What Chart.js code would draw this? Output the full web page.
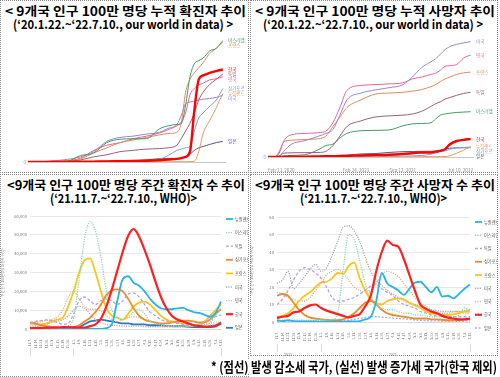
<!DOCTYPE html>
<html>
<head>
<meta charset="utf-8">
<script src="https://cdn.jsdelivr.net/npm/chart.js@4.4.1/dist/chart.umd.min.js"></script>
<style>
body { margin: 0; width: 500px; height: 377px; background: #fff; position: relative; overflow: hidden; font-family: 'Noto Sans CJK KR', sans-serif; }
.box { position: absolute; border: 1px dotted #888; box-sizing: border-box; }
.c { position: absolute; }
.t { position: absolute; white-space: nowrap; font-weight: bold; font-size: 12.5px; line-height: 13px; color: #000; transform-origin: 0 0; }
.foot { background: #fff; font-size: 13.5px; line-height: 15px; }
</style>
</head>
<body>
<div class="box" style="left:0;top:0;width:249px;height:173px"></div>
<div class="box" style="left:250px;top:0;width:248px;height:173px"></div>
<div class="box" style="left:0;top:174px;width:249px;height:203px"></div>
<div class="box" style="left:250px;top:174px;width:248px;height:182px"></div>

<div class="t" data-x="5" data-w="241" style="top:4px">&lt; 9개국 인구 100만 명당 누적 확진자 추이</div>
<div class="t" data-x="13" data-w="220" style="top:17px">(‘20.1.22.~‘22.7.10., our world in data) &gt;</div>
<div class="t" data-x="255" data-w="240" style="top:4px">&lt; 9개국 인구 100만 명당 누적 사망자 추이</div>
<div class="t" data-x="263" data-w="220" style="top:17px">(‘20.1.22.~‘22.7.10., our world in data) &gt;</div>
<div class="t" data-x="7" data-w="238" style="top:178px">&lt;9개국 인구 100만 명당 주간 확진자 수 추이</div>
<div class="t" data-x="50" data-w="147" style="top:191px">(‘21.11.7.~‘22.7.10., WHO)&gt;</div>
<div class="t" data-x="255" data-w="240" style="top:178px">&lt;9개국 인구 100만 명당 주간 사망자 수 추이</div>
<div class="t" data-x="300" data-w="147" style="top:191px">(‘21.11.7.~‘22.7.10., WHO)&gt;</div>

<div class="c" style="left:0;top:30px;width:249px;height:142px"><canvas id="cumCases"></canvas></div>
<div class="c" style="left:250px;top:30px;width:248px;height:142px"><canvas id="cumDeaths"></canvas></div>
<div class="c" style="left:1px;top:203px;width:247px;height:154px"><canvas id="weekCases"></canvas></div>
<div class="c" style="left:250px;top:203px;width:247px;height:154px"><canvas id="weekDeaths"></canvas></div>

<div class="t foot" data-x="211" data-w="286" style="top:359px">* (점선) 발생 감소세 국가, (실선) 발생 증가세 국가(한국 제외)</div>

<script>
// cumulative per million (our world in data), x = days since 2020-01-22
var caseDays = [0, 60, 120, 180, 240, 300, 360, 420, 480, 540, 600, 640, 680, 700, 720, 740, 760, 780, 800, 830, 860, 890];
var caseCountries = ['이스라엘', '프랑스', '한국', '독일', '영국', '싱가포르', '뉴질랜드', '미국', '일본'];
var cumCases = [
    [0, 0, 1000, 3000, 25000, 35000, 75000, 88000, 90000, 90000, 128000, 140000, 145000, 148000, 220000, 330000, 380000, 392000, 402000, 430000, 440000, 470000],
    [0, 1000, 2500, 5000, 12000, 35000, 55000, 75000, 85000, 95000, 105000, 110000, 115000, 150000, 270000, 320000, 345000, 365000, 385000, 420000, 440000, 465000],
    [0, 0, 200, 500, 1000, 1500, 2000, 3000, 4000, 5000, 7000, 9000, 12000, 15000, 20000, 40000, 200000, 320000, 335000, 345000, 352000, 358000],
    [0, 0, 2000, 3000, 8000, 20000, 28000, 40000, 45000, 50000, 52000, 55000, 65000, 90000, 120000, 150000, 190000, 240000, 270000, 300000, 320000, 340000],
    [0, 500, 4000, 5000, 15000, 45000, 65000, 75000, 90000, 100000, 112000, 125000, 140000, 155000, 190000, 260000, 285000, 298000, 305000, 318000, 322000, 330000],
    [0, 0, 500, 1000, 1000, 1000, 1500, 2000, 2500, 5000, 10000, 25000, 45000, 50000, 55000, 60000, 120000, 170000, 190000, 215000, 240000, 285000],
    [0, 0, 0, 0, 0, 0, 0, 100, 100, 200, 500, 1000, 1000, 1000, 1000, 1500, 3000, 40000, 110000, 160000, 210000, 265000],
    [0, 500, 5000, 10000, 20000, 40000, 80000, 95000, 100000, 108000, 115000, 130000, 145000, 180000, 225000, 232000, 236000, 240000, 243000, 246000, 250000, 258000],
    [0, 0, 100, 500, 1000, 2000, 3000, 5000, 6000, 8000, 13000, 14000, 14000, 15000, 20000, 30000, 45000, 55000, 60000, 68000, 75000, 80000]
];
var caseTickDays = [0, 399, 599, 900];
var caseTickText = ['Jan 22, 2020', 'Feb 24, 2021', 'Sep 12, 2021', 'Jul 10, 2022'];

var deathDays = [22, 50, 70, 90, 120, 180, 240, 270, 300, 330, 360, 420, 480, 540, 600, 640, 680, 720, 740, 760, 780, 800, 830, 860, 890];
var deathCountries = ['미국', '영국', '프랑스', '독일', '이스라엘', '한국', '뉴질랜드', '싱가포르', '일본'];
var cumDeaths = [
    [0, 0, 20, 150, 330, 430, 550, 620, 720, 1100, 1500, 1680, 1760, 1820, 1900, 2100, 2350, 2500, 2580, 2700, 2820, 2900, 2960, 3000, 3030],
    [0, 0, 100, 420, 580, 620, 640, 680, 900, 1300, 1750, 1880, 1900, 1920, 1950, 2050, 2100, 2170, 2200, 2280, 2380, 2400, 2430, 2600, 2680],
    [0, 0, 150, 400, 440, 460, 480, 550, 800, 1050, 1300, 1500, 1650, 1680, 1700, 1730, 1770, 1850, 1900, 1980, 2050, 2100, 2170, 2210, 2230],
    [0, 0, 30, 100, 110, 115, 120, 150, 300, 550, 800, 950, 1050, 1080, 1100, 1130, 1200, 1330, 1400, 1450, 1520, 1560, 1620, 1670, 1700],
    [0, 0, 10, 30, 40, 60, 200, 300, 340, 500, 620, 690, 700, 710, 820, 870, 880, 900, 1000, 1100, 1130, 1150, 1170, 1180, 1190],
    [0, 0, 1, 3, 5, 8, 15, 18, 20, 25, 30, 40, 50, 60, 80, 100, 120, 120, 140, 160, 200, 330, 420, 450, 475],
    [0, 0, 0, 1, 4, 5, 5, 5, 5, 5, 5, 5, 5, 5, 5, 6, 8, 10, 10, 10, 12, 30, 100, 180, 270],
    [0, 0, 0, 0, 1, 1, 1, 1, 1, 2, 3, 5, 7, 10, 20, 30, 40, 70, 110, 140, 160, 200, 240, 250, 260],
    [0, 0, 2, 5, 8, 10, 15, 20, 30, 40, 50, 80, 90, 120, 140, 145, 148, 150, 155, 180, 210, 230, 240, 243, 245]
];
var deathTickDays = [22, 399, 599, 900];
var deathTickText = ['Feb 13, 2020', 'Feb 24, 2021', 'Sep 12, 2021', 'Jul 10, 2022'];

// weekly per million (WHO), 21.11.7 ~ 22.7.10
var weekLabels = ['11.7.', '11.14.', '11.21.', '11.28.', '12.5.', '12.12.', '12.19.', '12.26.', '1.2.', '1.9.', '1.16.', '1.23.', '1.30.', '2.6.', '2.13.', '2.20.', '2.27.', '3.6.', '3.13.', '3.20.', '3.27.', '4.3.', '4.10.', '4.17.', '4.24.', '5.1.', '5.8.', '5.15.', '5.22.', '5.29.', '6.5.', '6.12.', '6.19.', '6.26.', '7.3.', '7.10.'];
var yearRow = ['', '', '2021', '', '', '', '', '', '', '', '', '', '', '', '', '', '', '', '', '', '', '2022', '', '', '', '', '', '', '', '', '', '', '', '', '', ''];
var weekCountries = ['뉴질랜드', '이스라엘', '독일', '싱가포르', '프랑스', '미국', '영국', '한국', '일본'];
var weeklyCases = [
    [100, 100, 100, 100, 100, 100, 100, 100, 100, 100, 100, 100, 100, 100, 500, 2500, 15000, 26500, 28000, 24500, 23000, 20000, 16000, 13000, 11000, 10500, 10500, 11000, 11200, 10000, 9000, 8500, 7500, 6500, 8500, 14500],
    [300, 300, 300, 300, 300, 400, 500, 1500, 6000, 26000, 48000, 57000, 52000, 38000, 20000, 10000, 6000, 5000, 6500, 9000, 10500, 8000, 4000, 3000, 2500, 2000, 1800, 1600, 1500, 1500, 1500, 1500, 2000, 3500, 7000, 11000],
    [3000, 4000, 4500, 4800, 4500, 3500, 2500, 3000, 8000, 15000, 17000, 15000, 13000, 15000, 16000, 15000, 13000, 15000, 18500, 19000, 17000, 13000, 9000, 7000, 5000, 4000, 3500, 3000, 2500, 2000, 2000, 2500, 3500, 5000, 6500, 7500],
    [3500, 3000, 2000, 1500, 1000, 700, 600, 600, 1000, 2000, 4000, 6000, 9000, 13000, 18000, 20500, 21000, 20000, 16000, 11000, 7000, 5000, 4000, 3500, 3000, 3000, 3500, 4000, 4500, 4500, 4000, 3500, 3500, 5000, 8000, 10500],
    [3000, 2500, 2500, 3000, 4000, 5000, 6000, 12000, 20000, 30000, 36500, 37500, 30000, 20000, 11000, 7000, 6000, 5000, 8000, 12000, 14000, 14500, 13000, 10000, 7000, 5000, 4000, 3500, 3000, 2500, 2200, 2500, 4000, 7000, 10000, 13000],
    [1500, 1500, 2000, 2500, 3500, 4000, 5000, 7000, 10000, 12000, 11000, 8000, 5000, 3500, 2500, 2000, 1800, 1500, 1500, 1500, 1500, 1300, 1200, 1200, 1200, 1200, 1200, 1200, 1300, 1400, 1500, 1600, 1800, 2000, 2200, 2500],
    [3500, 3500, 4000, 4500, 5000, 6500, 10000, 17000, 20000, 16000, 12000, 10500, 10500, 9500, 7000, 5000, 4000, 5000, 6000, 6500, 6000, 5000, 4000, 3000, 2000, 1500, 1200, 1000, 1000, 1200, 1500, 2000, 2500, 3000, 3500, 4000],
    [500, 500, 600, 700, 800, 900, 1000, 1000, 900, 800, 800, 1500, 2500, 5500, 12000, 21000, 31000, 41000, 49500, 53000, 49000, 42000, 34000, 25000, 17000, 11000, 7000, 5000, 4000, 3000, 2000, 1500, 1200, 1100, 1500, 3000],
    [100, 100, 100, 100, 100, 100, 100, 150, 200, 1000, 2500, 4000, 4500, 5000, 4500, 4000, 3500, 3000, 3000, 2500, 2500, 2500, 2000, 2000, 2000, 1500, 1500, 1500, 1500, 1200, 1000, 1000, 1000, 1500, 2000, 3500]
];
var weeklyDeaths = [
    [1, 0.5, 1, 0.5, 0.3, 0.3, 0.3, 0.3, 0.2, 0.2, 0.2, 0.2, 0.2, 0.3, 0.3, 0.5, 1.5, 3, 12, 28, 22, 20, 18, 15.5, 19, 22.5, 23, 20, 17, 20, 14.5, 15, 13.5, 16, 19, 21.5],
    [1, 1, 1, 1, 1, 1, 1, 1, 1, 1, 1.5, 5, 30, 50, 47, 35, 22, 15, 10, 8, 7, 7, 6, 5, 5, 4, 4, 3.5, 3, 3, 3, 3, 3, 4, 8, 6],
    [10, 13, 18, 24, 29, 31, 30, 28, 25, 20, 14, 12, 12, 13, 14, 16, 18, 20.5, 21.5, 19, 17, 15, 12, 10, 9, 8, 6, 5, 4, 3.5, 3, 3, 3, 3, 3, 3],
    [15, 16, 15, 11, 7, 4, 2.5, 2, 1.5, 1.2, 1, 1, 1.5, 3, 5, 8, 11, 12, 10, 7, 5, 4, 3.5, 3, 2.5, 2, 2, 2, 1.5, 1.5, 1.2, 1, 1, 1, 1.5, 1.5],
    [3, 3.5, 5, 8, 12, 15, 17, 20, 22.5, 23, 25, 28, 27.5, 32, 34, 25, 18, 13, 11, 10, 12, 13, 13.5, 13, 11, 9.5, 8, 6, 5, 4.5, 4, 4, 4.5, 5, 6, 6],
    [22, 24, 29, 19, 22, 26, 30, 33, 29, 31, 38, 46, 54, 55, 52, 46, 37, 29, 24, 21, 18, 16, 14, 12, 11, 10, 9, 8, 7, 6.5, 6, 6, 6, 6, 6.5, 7],
    [17, 16, 14, 13, 12, 12, 14, 18, 22, 27, 29, 30, 28, 24, 20, 18, 17, 18, 22, 27, 29, 28, 26, 22, 18, 14, 11, 9, 7, 6, 5, 5, 6, 6, 5, 5],
    [2.3, 3, 3.5, 5.5, 6, 8, 9.5, 10, 8, 6.5, 5.5, 4.5, 3.5, 2.5, 3.5, 4.5, 9, 15, 29, 40, 46.5, 44, 43, 36, 27, 18, 10, 7.5, 6, 5, 3.5, 2.5, 2, 1.5, 1.5, 2],
    [0.2, 0.2, 0.2, 0.2, 0.2, 0.2, 0.2, 0.2, 0.2, 0.2, 0.3, 0.5, 0.8, 1, 1.5, 2, 2.5, 3, 3, 2.8, 2.5, 2.2, 2, 1.8, 1.5, 1.2, 1, 0.8, 0.7, 0.6, 0.5, 0.5, 0.5, 0.5, 0.5, 0.5]
];

// line styles
var owidColor = {
    '이스라엘': '#3f9e5f', '프랑스': '#e2875c', '한국': '#ff0000', '독일': '#a15c74', '영국': '#e6649e',
    '싱가포르': '#7e9fd9', '뉴질랜드': '#e89a5a', '미국': '#9c84cc', '일본': '#48598a'
};
var excelStyle = {
    '뉴질랜드': { color: '#2ab4e6', dash: [], width: 1.8 },
    '이스라엘': { color: '#86d9ad', dash: [1.2, 1.2], width: 1.3 },
    '독일': { color: '#bb9fdc', dash: [3, 2], width: 1.3 },
    '싱가포르': { color: '#ee8a2c', dash: [], width: 1.8 },
    '프랑스': { color: '#fcc419', dash: [], width: 1.8 },
    '미국': { color: '#a9a9ae', dash: [1.2, 1.2], width: 1.3 },
    '영국': { color: '#dcb590', dash: [1.2, 1.2], width: 1.3 },
    '한국': { color: '#ff1f1f', dash: [], width: 2.2 },
    '일본': { color: '#2f78c4', dash: [], width: 1.8 }
};

// country names next to the line ends (owid style)
var endLabels = {
    id: 'endLabels',
    afterDatasetsDraw: function(chart, args, opts) {
        var ctx = chart.ctx;
        var items = [];
        chart.data.datasets.forEach(function(ds, i) {
            var pts = chart.getDatasetMeta(i).data;
            var p = pts[pts.length - 1];
            items.push({ y: p.y, text: ds.label, color: ds.borderColor });
        });
        items.sort(function(a, b) { return a.y - b.y; });
        for (var k = 1; k < items.length; k++) {
            if (items[k].y - items[k - 1].y < opts.gap) items[k].y = items[k - 1].y + opts.gap;
        }
        ctx.save();
        ctx.font = '4.5px "Noto Sans CJK KR"';
        ctx.textBaseline = 'middle';
        items.forEach(function(it) {
            ctx.fillStyle = it.color;
            ctx.fillText(it.text, chart.chartArea.right + 3, it.y);
        });
        ctx.restore();
    }
};

// excel style legend column at the right of the plot
var sideLegend = {
    id: 'sideLegend',
    afterDraw: function(chart, args, opts) {
        var ctx = chart.ctx;
        var area = chart.chartArea;
        ctx.save();
        ctx.font = '4.2px "Noto Sans CJK KR"';
        ctx.textBaseline = 'middle';
        chart.data.datasets.forEach(function(ds, i) {
            var y = area.top + opts.first + i * opts.step;
            ctx.beginPath();
            ctx.strokeStyle = ds.borderColor;
            ctx.lineWidth = ds.borderWidth;
            ctx.setLineDash(ds.borderDash);
            ctx.moveTo(area.right + 5, y);
            ctx.lineTo(area.right + 12, y);
            ctx.stroke();
            ctx.setLineDash([]);
            ctx.fillStyle = '#555';
            ctx.fillText(ds.label, area.right + 14, y);
        });
        ctx.restore();
    }
};

function cumChart(id, days, countries, values, xMin, tickDays, tickText, yMax, yStep, yWidth, padTop, padRight, xHeight) {
    var datasets = [];
    for (var i in countries) {
        var pts = [];
        for (var j in days) pts.push({ x: days[j], y: values[i][j] });
        datasets.push({
            label: countries[i],
            data: pts,
            borderColor: owidColor[countries[i]],
            borderWidth: countries[i] == '한국' ? 2.4 : 1,
            pointRadius: 0,
            cubicInterpolationMode: 'monotone',
            order: countries[i] == '한국' ? 0 : 1
        });
    }
    return new Chart(document.getElementById(id), {
        type: 'line',
        data: { datasets: datasets },
        plugins: [endLabels],
        options: {
            animation: false,
            responsive: true,
            maintainAspectRatio: false,
            layout: { padding: { top: padTop, right: padRight, left: 0, bottom: 0 } },
            plugins: { legend: { display: false }, tooltip: { enabled: false }, endLabels: { gap: 5 } },
            scales: {
                x: {
                    type: 'linear', min: xMin, max: 900,
                    afterBuildTicks: function(s) { s.ticks = tickDays.map(function(v) { return { value: v }; }); },
                    afterFit: function(s) { s.height = xHeight; },
                    ticks: {
                        align: 'inner', autoSkip: false, maxRotation: 0, padding: 2,
                        font: { size: 4.6 }, color: '#8a8a8a',
                        callback: function(v) { return tickText[tickDays.indexOf(v)]; }
                    },
                    grid: { display: false },
                    border: { color: '#c8c8c8' }
                },
                y: {
                    min: 0, max: yMax,
                    afterBuildTicks: function(s) { s.ticks = s.ticks.filter(function(t) { return t.value % yStep === 0; }); },
                    afterFit: function(s) { s.width = yWidth; },
                    ticks: {
                        stepSize: yStep, padding: 2, font: { size: 4.6 }, color: '#a0a0a0',
                        callback: function(v) { return v.toLocaleString('en-US'); }
                    },
                    grid: { color: '#ececec', drawTicks: false },
                    border: { display: false }
                }
            }
        }
    });
}

function weekChart(id, values, yMax, yStep, yTitle, yWidth, padTop, xHeight, yearHeight, legendFirst, legendStep, japanStyle) {
    var datasets = [];
    for (var i in weekCountries) {
        var st = excelStyle[weekCountries[i]];
        if (weekCountries[i] == '일본' && japanStyle) st = japanStyle;
        datasets.push({
            label: weekCountries[i],
            data: values[i],
            borderColor: st.color,
            borderDash: st.dash,
            borderWidth: st.width,
            pointRadius: 0,
            cubicInterpolationMode: 'monotone',
            order: weekCountries[i] == '한국' ? 0 : 1
        });
    }
    return new Chart(document.getElementById(id), {
        type: 'line',
        data: { labels: weekLabels, datasets: datasets },
        plugins: [sideLegend],
        options: {
            animation: false,
            responsive: true,
            maintainAspectRatio: false,
            layout: { padding: { top: padTop, right: 27, left: 0, bottom: 0 } },
            plugins: {
                tooltip: { enabled: false },
                legend: { display: false },
                sideLegend: { first: legendFirst, step: legendStep }
            },
            scales: {
                x: {
                    afterFit: function(s) { s.height = xHeight; },
                    ticks: { autoSkip: false, minRotation: 90, maxRotation: 90, padding: 2, font: { size: 3.4 }, color: '#777' },
                    grid: { display: false },
                    border: { color: '#d9d9d9' }
                },
                x2: {
                    type: 'category', labels: weekLabels, position: 'bottom',
                    afterFit: function(s) { s.height = yearHeight; },
                    ticks: {
                        autoSkip: false, maxRotation: 0, padding: 0, font: { size: 3.6 }, color: '#777',
                        callback: function(v, i) { return yearRow[i]; }
                    },
                    grid: {
                        drawOnChartArea: false, tickLength: 8,
                        color: function(c) { return (c.index === 0 || c.index === 8 || c.index === 35) ? '#d9d9d9' : 'rgba(0,0,0,0)'; }
                    },
                    border: { display: false }
                },
                y: {
                    min: 0, max: yMax,
                    afterFit: function(s) { s.width = yWidth; },
                    title: { display: true, text: yTitle, font: { size: 3.4 }, color: '#777', padding: 0 },
                    ticks: {
                        stepSize: yStep, padding: 3, font: { size: 4.2 }, color: '#777',
                        callback: function(v) { return v.toLocaleString('en-US'); }
                    },
                    grid: { color: '#e8e8e8', drawTicks: false },
                    border: { display: false }
                }
            }
        }
    });
}

Chart.defaults.font.family = '"Noto Sans CJK KR", "Noto Sans", sans-serif';

cumChart('cumCases', caseDays, caseCountries, cumCases, 0, caseTickDays, caseTickText, 480000, 100000, 28, 8, 24, 10);
cumChart('cumDeaths', deathDays, deathCountries, cumDeaths, 22, deathTickDays, deathTickText, 3100, 500, 18, 9, 25, 15);
weekChart('weekCases', weeklyCases, 60000, 10000, '주간 인구 100만명당 확진자 수(명)', 29, 13, 19, 9, 3, 13.6, null);
weekChart('weekDeaths', weeklyDeaths, 60, 10, '주간 인구 100만명당 사망자 수(명)', 27, 14, 22, 13, 5, 13.25,
    { color: '#9fb4d8', dash: [2, 1.5], width: 1.3 });

// squeeze the heading lines to the widths they have in the picture
document.querySelectorAll('.t').forEach(function(el) {
    var w = el.getBoundingClientRect().width;
    el.style.left = el.dataset.x + 'px';
    el.style.transform = 'scaleX(' + (el.dataset.w / w) + ')';
});
</script>
</body>
</html>
